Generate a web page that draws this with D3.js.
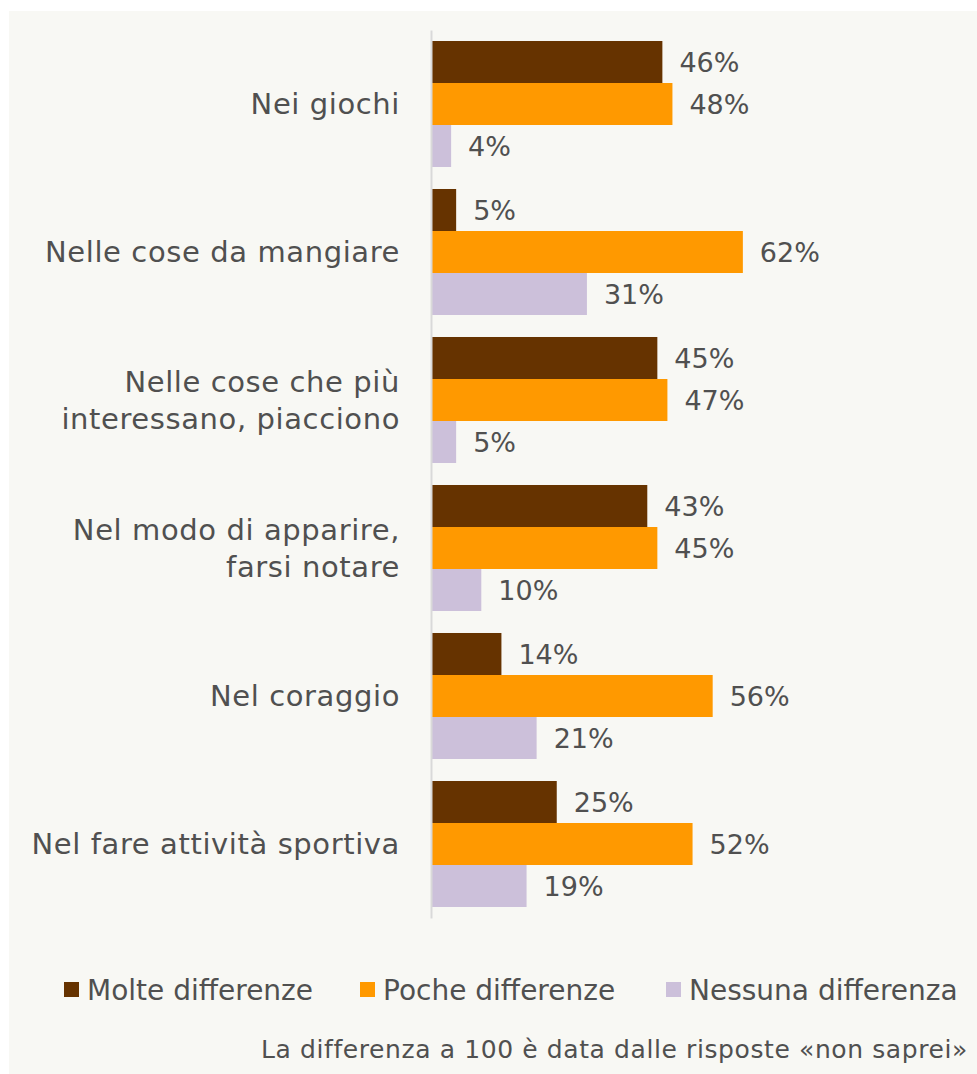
<!DOCTYPE html>
<html>
<head>
<meta charset="utf-8">
<script src="https://cdn.jsdelivr.net/npm/d3@7"></script>
<style>
  body { margin: 0; background: #fff; }
  text { font-family: "DejaVu Sans", sans-serif; fill: #505050; }
</style>
</head>
<body>
<script>
// chart data
const categories = [
    ["Nei giochi"],
    ["Nelle cose da mangiare"],
    ["Nelle cose che più", "interessano, piacciono"],
    ["Nel modo di apparire,", "farsi notare"],
    ["Nel coraggio"],
    ["Nel fare attività sportiva"]
]
const seriesNames = ["Molte differenze", "Poche differenze", "Nessuna differenza"]
const molte = [46, 5, 45, 43, 14, 25]
const poche = [48, 62, 47, 45, 56, 52]
const nessuna = [4, 31, 5, 10, 21, 19]
const colors = ["#663300", "#FF9900", "#CCC0DA"]
const note = "La differenza a 100 è data dalle risposte «non saprei»"

var w = 977
var h = 1074

var svg = d3.select("body")
            .append("svg")
            .attr("width", w)
            .attr("height", h)

// panel background
svg.append("rect")
    .attr("x", 9).attr("y", 11)
    .attr("width", w - 9).attr("height", h - 11)
    .attr("fill", "#f8f8f4")

const series = [molte, poche, nessuna]

const yScale = d3.scaleBand()
    .domain(d3.range(categories.length))
    .range([30, 918])
    .paddingInner(0.1486)
    .paddingOuter(0.0743)

const ySub = d3.scaleBand()
    .domain(d3.range(series.length))
    .range([0, yScale.bandwidth()])

const xScale = d3.scaleLinear()
    .domain([0, 100])
    .range([431, 431 + 503])

// bars
series.forEach((vals, s) => {
    svg.append("g")
    .selectAll("rect")
    .data(vals)
    .enter()
    .append("rect")
    .attr("x", xScale(0))
    .attr("y", (d, i) => yScale(i) + ySub(s))
    .attr("width", d => xScale(d) - xScale(0))
    .attr("height", ySub.bandwidth())
    .attr("fill", colors[s])

    // value labels
    svg.append("g")
    .selectAll("text")
    .data(vals)
    .enter()
    .append("text")
    .attr("x", d => xScale(d) + 17)
    .attr("y", (d, i) => yScale(i) + ySub(s) + ySub.bandwidth() / 2)
    .attr("dy", "0.36em")
    .attr("font-size", 27)
    .text(d => d + "%")
})

// vertical axis line
const yAxis = d3.axisLeft(yScale).tickSize(0).tickFormat("")
svg.append("g")
    .attr("transform", `translate(${xScale(0)},0)`)
    .call(yAxis)
    .call(g => g.select(".domain").attr("stroke", "#d9d9d9").attr("stroke-width", 2))

// category labels
const lineH = 37
categories.forEach((lines, i) => {
    const cy = yScale(i) + yScale.bandwidth() / 2
    const t = svg.append("text")
        .attr("text-anchor", "end")
        .attr("font-size", 29)
        .attr("letter-spacing", 0.6)
    lines.forEach((ln, j) => {
        t.append("tspan")
        .attr("x", 400)
        .attr("y", cy + (j - (lines.length - 1) / 2) * lineH)
        .attr("dy", "0.36em")
        .text(ln)
    })
})

// legend
const legendX = [64, 360, 666]
const legend = svg.append("g")
seriesNames.forEach((name, s) => {
    legend.append("rect")
    .attr("x", legendX[s]).attr("y", 982)
    .attr("width", 15).attr("height", 15)
    .attr("fill", colors[s])
    legend.append("text")
    .attr("x", legendX[s] + 23).attr("y", 990)
    .attr("dy", "0.36em")
    .attr("font-size", 28)
    .text(name)
})

// footnote
svg.append("text")
    .attr("x", 968).attr("y", 1058)
    .attr("text-anchor", "end")
    .attr("font-size", 25)
    .attr("letter-spacing", 0.6)
    .text(note)
</script>
</body>
</html>
